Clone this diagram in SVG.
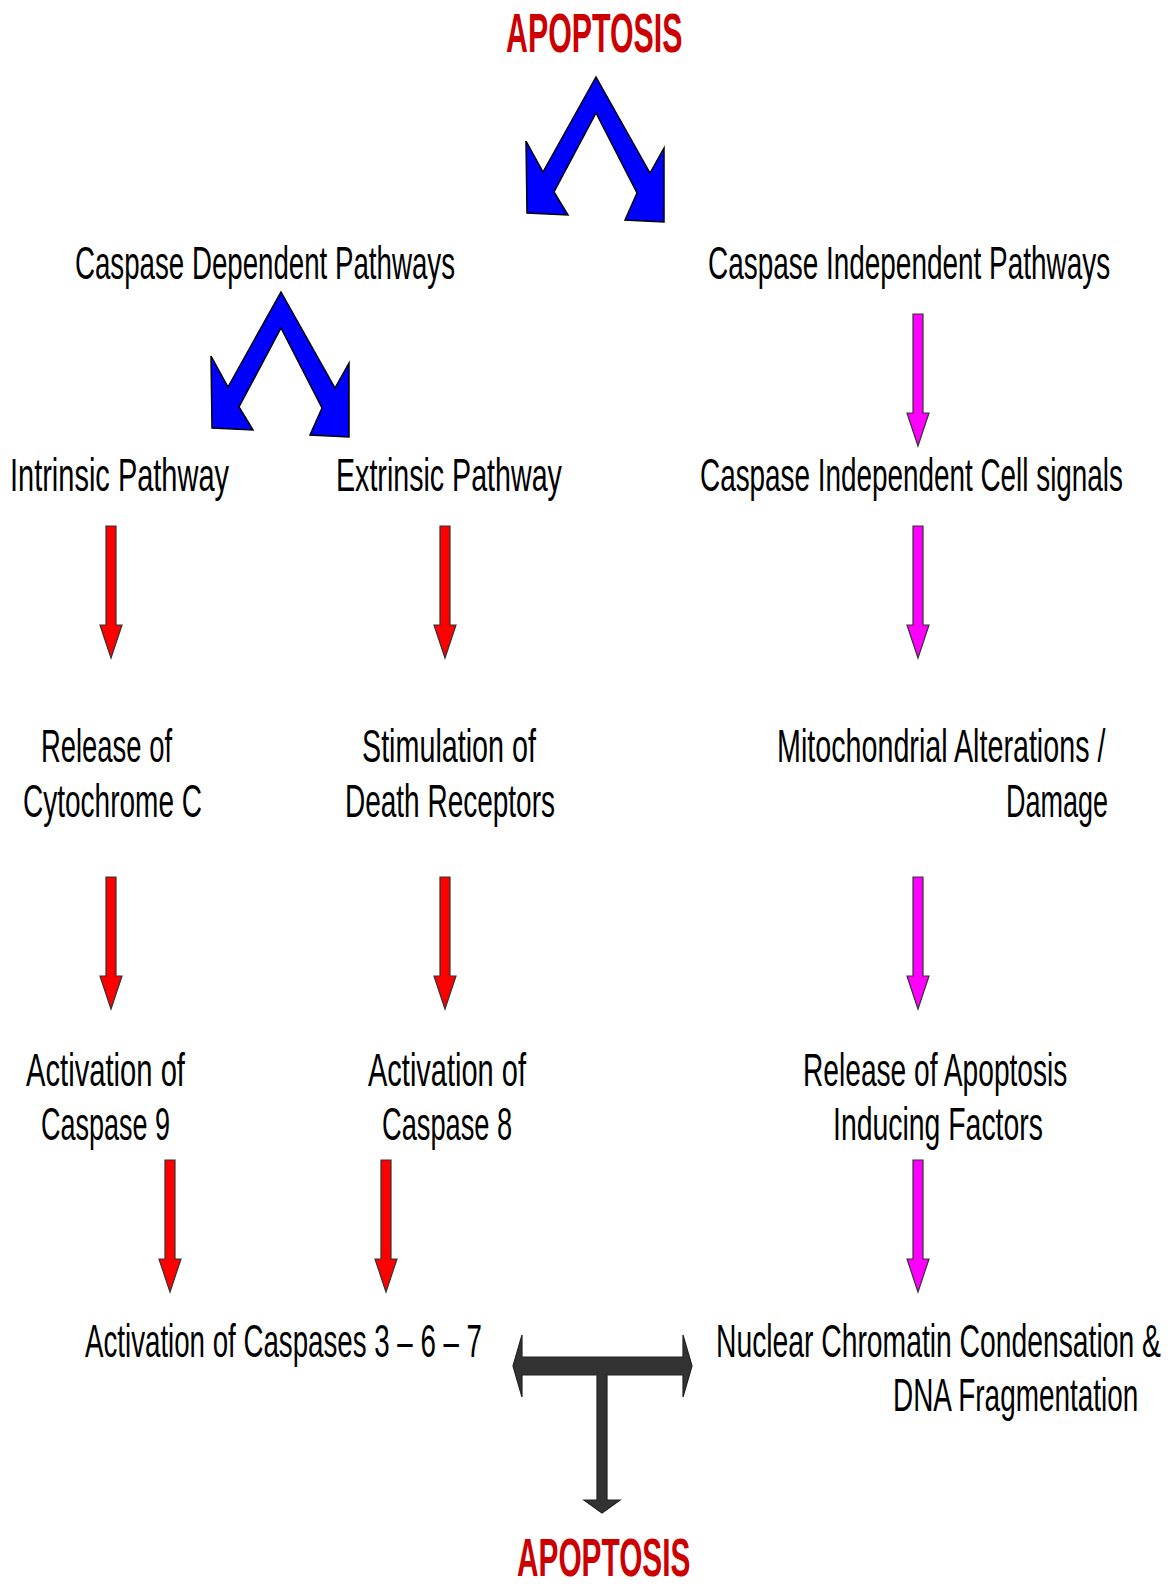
<svg xmlns="http://www.w3.org/2000/svg" xmlns:xlink="http://www.w3.org/1999/xlink" width="1175" height="1588" viewBox="0 0 1175 1588">
<style>
.t{font-family:"Liberation Sans",Arial,sans-serif;font-size:46px;fill:#000}
.h{font-family:"Liberation Sans",Arial,sans-serif;font-size:55px;font-weight:bold;fill:#CC0000}
.red{fill:#FF0000;stroke:#333;stroke-width:1.2}
.mag{fill:#FF00FF;stroke:#333;stroke-width:1.2}
.blue{fill:#0000FF;stroke:#000;stroke-width:1.5;stroke-linejoin:miter}
.dark{fill:#333;stroke:#222;stroke-width:1.2}
</style>
<defs>
<path id="arr" d="M-5,0 H5 V99 H11 L0,132 L-11,99 H-5 Z"/>
<polygon id="chev" points="596,77 650,173 664,148 664,222 625,220 637,193 596,113 554,192 568,215 527,213 526,141 543,172"/>
</defs>
<rect width="1175" height="1588" fill="#fff"/>

<g id="apoptosis-top"><text class="h" transform="translate(506,52) scale(0.5515,1)">APOPTOSIS</text></g>
<g id="caspase-dependent"><text class="t" transform="translate(75,279) scale(0.6017,1)">Caspase Dependent Pathways</text></g>
<g id="caspase-independent"><text class="t" transform="translate(708,279) scale(0.6072,1)">Caspase Independent Pathways</text></g>
<g id="intrinsic"><text class="t" transform="translate(10,491) scale(0.630,1)">Intrinsic Pathway</text></g>
<g id="extrinsic"><text class="t" transform="translate(336,491) scale(0.6226,1)">Extrinsic Pathway</text></g>
<g id="ci-cell-signals"><text class="t" transform="translate(700,491) scale(0.6062,1)">Caspase Independent Cell signals</text></g>
<g id="cytochrome"><text class="t" transform="translate(41,762) scale(0.5958,1)">Release of</text><text class="t" transform="translate(23,817) scale(0.609,1)">Cytochrome C</text></g>
<g id="death-receptors"><text class="t" transform="translate(362,762) scale(0.6244,1)">Stimulation of</text><text class="t" transform="translate(345,817) scale(0.6085,1)">Death Receptors</text></g>
<g id="mito"><text class="t" transform="translate(777,762) scale(0.6236,1)">Mitochondrial Alterations /</text><text class="t" transform="translate(1006,817) scale(0.587,1)">Damage</text></g>
<g id="caspase9"><text class="t" transform="translate(26,1086) scale(0.6346,1)">Activation of</text><text class="t" transform="translate(41,1140) scale(0.587,1)">Caspase 9</text></g>
<g id="caspase8"><text class="t" transform="translate(368,1086) scale(0.6306,1)">Activation of</text><text class="t" transform="translate(382,1140) scale(0.592,1)">Caspase 8</text></g>
<g id="aif"><text class="t" transform="translate(803,1086) scale(0.612,1)">Release of Apoptosis</text><text class="t" transform="translate(833,1140) scale(0.6176,1)">Inducing Factors</text></g>
<g id="caspases367"><text class="t" transform="translate(85,1357) scale(0.602,1)">Activation of Caspases 3 – 6 – 7</text></g>
<g id="chromatin"><text class="t" transform="translate(716,1357) scale(0.615,1)">Nuclear Chromatin Condensation &amp;</text><text class="t" transform="translate(893,1411) scale(0.6077,1)">DNA Fragmentation</text></g>
<g id="apoptosis-bottom"><text class="h" style="font-size:53px" transform="translate(517,1576) scale(0.5626,1)">APOPTOSIS</text></g>

<g id="connectors">
<use href="#chev" class="blue"/>
<use href="#chev" class="blue" transform="translate(-315,215)"/>
<use href="#arr" class="red" transform="translate(111,526)"/>
<use href="#arr" class="red" transform="translate(445,526)"/>
<use href="#arr" class="red" transform="translate(111,877)"/>
<use href="#arr" class="red" transform="translate(445,877)"/>
<use href="#arr" class="red" transform="translate(170,1160)"/>
<use href="#arr" class="red" transform="translate(386,1160)"/>
<use href="#arr" class="mag" transform="translate(918,314)"/>
<use href="#arr" class="mag" transform="translate(918,526)"/>
<use href="#arr" class="mag" transform="translate(918,877)"/>
<use href="#arr" class="mag" transform="translate(918,1160)"/>
<path class="dark" d="M522,1357 H683 V1335 L692,1366 L683,1397 V1375 H607 V1500 H620 L602,1513 L584,1500 H597 V1375 H522 V1397 L513,1366 L522,1335 Z"/>
</g>
</svg>
